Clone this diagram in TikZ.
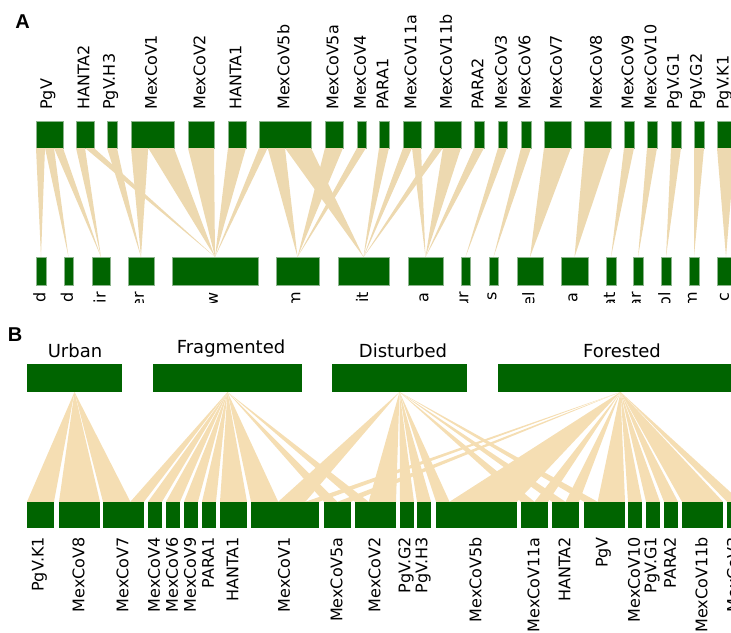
\documentclass[tikz,border=0pt]{standalone}
\usepackage{fontspec}
\setmainfont{DejaVu Sans}
\newfontfamily\panelfont{Liberation Sans}
\usepackage{tikz}
\usetikzlibrary{calc}
\definecolor{bargreen}{RGB}{0,100,0}
\definecolor{baredge}{RGB}{140,180,140}
\definecolor{linkA}{RGB}{237,217,176}
\definecolor{linkB}{RGB}{245,222,179}

\begin{document}
\begin{tikzpicture}[x=1pt,y=-1pt]
\tikzstyle{bar}=[rectangle,fill=bargreen,inner sep=0pt,outer sep=0pt]
\tikzstyle{barA}=[bar,draw=baredge,line width=0.5pt]
\tikzstyle{vlab}=[rotate=90,inner sep=0pt,font=\fontsize{16}{16}\selectfont]
\tikzstyle{hlab}=[anchor=base,inner sep=0pt,font=\fontsize{18}{18}\selectfont]
\tikzstyle{panel}=[inner sep=0pt,font=\panelfont\bfseries\fontsize{20}{20}\selectfont]
\clip (0,0) rectangle (731,632);

% panel A: viruses (top) and bats (bottom)
\node [panel] (pA) at (22.5,22) {A};
\foreach \n/\xa/\xb/\t in {tPgV/36/63/PgV, tHANTA2/76/94/HANTA2, tPgVH3/107/117/PgV.H3,
  tMexCoV1/131/174/MexCoV1, tMexCoV2/188/214/MexCoV2, tHANTA1/228/246/HANTA1,
  tMexCoV5b/259/311/MexCoV5b, tMexCoV5a/325/343/MexCoV5a, tMexCoV4/357/366/MexCoV4,
  tPARA1/379/389/PARA1, tMexCoV11a/403/421/MexCoV11a, tMexCoV11b/434/461/MexCoV11b,
  tPARA2/474/484/PARA2, tMexCoV3/498/507/MexCoV3, tMexCoV6/521/531/MexCoV6,
  tMexCoV7/544/571/MexCoV7, tMexCoV8/584/611/MexCoV8, tMexCoV9/624/634/MexCoV9,
  tMexCoV10/647/657/MexCoV10, tPgVG1/671/681/PgV.G1, tPgVG2/694/704/PgV.G2,
  tPgVK1/717/735/PgV.K1}{
  \node [barA,minimum width={(\xb-\xa)*1pt},minimum height=27pt] (\n) at ({(\xa+\xb)/2},134.5) {};
  \node [vlab,anchor=west] (l\n) at ({(\xa+\xb)/2-1.5},110) {\t};
}
\foreach \n/\xa/\xb in {bA1/36/46, bA2/64/73, bA3/92/110, bA4/128/154, bA5/172/258,
  bA6/276/319, bA7/338/389, bA8/408/443, bA9/461/470, bA10/489/498, bA11/517/543,
  bA12/561/588, bA13/606/616, bA14/633/643, bA15/661/671, bA16/689/699, bA17/717/735}
  \node [barA,minimum width={(\xb-\xa)*1pt},minimum height=28pt] (\n) at ({(\xa+\xb)/2},271) {};
\begin{scope}
\clip (0,0) rectangle (731,302);
\foreach \n/\t in {bA1/d, bA2/d, bA3/ir, bA4/er, bA5/w, bA6/m, bA7/it, bA8/a, bA9/ur,
  bA10/s, bA11/el, bA12/a, bA13/at, bA14/ar, bA15/ol, bA16/m, bA17/c}
  \node [vlab,anchor=east] (l\n) at ($(\n.south)+(-1.5,7)$) {\t};
\end{scope}
\foreach \s/\p/\q/\e in {tPgV/0/0.333/bA1, tPgV/0.333/0.667/bA2, tPgV/0.667/1/bA3,
  tHANTA2/0/0.5/bA3, tHANTA2/0.5/1/bA5, tPgVH3/0/1/bA4, tMexCoV1/0/0.4/bA4,
  tMexCoV1/0.4/1/bA5, tMexCoV2/0/1/bA5, tHANTA1/0/1/bA5, tMexCoV5b/0/0.167/bA5,
  tMexCoV5b/0.167/0.5/bA6, tMexCoV5b/0.5/1/bA7, tMexCoV5a/0/1/bA6, tMexCoV4/0/1/bA6,
  tPARA1/0/1/bA7, tMexCoV11a/0/0.5/bA7, tMexCoV11a/0.5/1/bA8, tMexCoV11b/0/0.333/bA7,
  tMexCoV11b/0.333/1/bA8, tPARA2/0/1/bA8, tMexCoV3/0/1/bA9, tMexCoV6/0/1/bA10,
  tMexCoV7/0/1/bA11, tMexCoV8/0/1/bA12, tMexCoV9/0/1/bA13, tMexCoV10/0/1/bA14,
  tPgVG1/0/1/bA15, tPgVG2/0/1/bA16, tPgVK1/0/1/bA17}
  \fill [linkA] ($(\s.south west)!\p!(\s.south east)$) -- ($(\s.south west)!\q!(\s.south east)$) -- (\e.north) -- cycle;

% panel B: habitats (top) and viruses (bottom)
\node [panel] (pB) at (15,335) {B};
\foreach \n/\xa/\xb/\t/\lx/\ly in {hUrban/27/122/Urban/75/357.5,
  hFragmented/153/302/Fragmented/231/353, hDisturbed/332/467/Disturbed/403/357.5,
  hForested/498/743/Forested/622/357.5}{
  \node [bar,minimum width={(\xb-\xa)*1pt},minimum height=28pt] (\n) at ({(\xa+\xb)/2},378) {};
  \node [hlab] (l\n) at (\lx,\ly) {\t};
}
\foreach \n/\xa/\xb/\t in {bPgVK1/27/54/PgV.K1, bMexCoV8/59/100/MexCoV8,
  bMexCoV7/103/144/MexCoV7, bMexCoV4/148/162/MexCoV4, bMexCoV6/166/180/MexCoV6,
  bMexCoV9/184/198/MexCoV9, bPARA1/202/216/PARA1, bHANTA1/220/247/HANTA1,
  bMexCoV1/251/319/MexCoV1, bMexCoV5a/324/351/MexCoV5a, bMexCoV2/355/396/MexCoV2,
  bPgVG2/400/414/PgV.G2, bPgVH3/417/431/PgV.H3, bMexCoV5b/436/517/MexCoV5b,
  bMexCoV11a/521/548/MexCoV11a, bHANTA2/552/579/HANTA2, bPgV/584/625/PgV,
  bMexCoV10/628/642/MexCoV10, bPgVG1/646/660/PgV.G1, bPARA2/664/678/PARA2,
  bMexCoV11b/682/723/MexCoV11b, bMexCoV3/727/741/MexCoV3}{
  \node [bar,minimum width={(\xb-\xa)*1pt},minimum height=26.5pt] (\n) at ({(\xa+\xb)/2},515) {};
  \node [vlab,anchor=east] (l\n) at ({(\xa+\xb)/2-1},537) {\t};
}
\foreach \s/\e/\p/\q in {hUrban/bPgVK1/0/1, hUrban/bMexCoV8/0/1, hUrban/bMexCoV7/0/0.667,
  hFragmented/bMexCoV7/0.667/1, hFragmented/bMexCoV4/0/1, hFragmented/bMexCoV6/0/1,
  hFragmented/bMexCoV9/0/1, hFragmented/bPARA1/0/1, hFragmented/bHANTA1/0/1,
  hFragmented/bMexCoV1/0/0.4, hFragmented/bMexCoV5a/0/0.5, hFragmented/bMexCoV2/0/0.333,
  hDisturbed/bMexCoV1/0.4/0.8, hDisturbed/bMexCoV2/0.333/1, hDisturbed/bPgVG2/0/1,
  hDisturbed/bPgVH3/0/1, hDisturbed/bMexCoV5b/0/0.167, hDisturbed/bMexCoV11a/0/0.5,
  hDisturbed/bHANTA2/0/0.5, hDisturbed/bPgV/0/0.333, hForested/bMexCoV1/0.8/1,
  hForested/bMexCoV5a/0.5/1, hForested/bMexCoV5b/0.167/1, hForested/bMexCoV11a/0.5/1,
  hForested/bHANTA2/0.5/1, hForested/bPgV/0.333/1, hForested/bMexCoV10/0/1,
  hForested/bPgVG1/0/1, hForested/bPARA2/0/1, hForested/bMexCoV11b/0/1,
  hForested/bMexCoV3/0/1}
  \fill [linkB] (\s.south) -- ($(\e.north west)!\p!(\e.north east)$) -- ($(\e.north west)!\q!(\e.north east)$) -- cycle;
\end{tikzpicture}
\end{document}
